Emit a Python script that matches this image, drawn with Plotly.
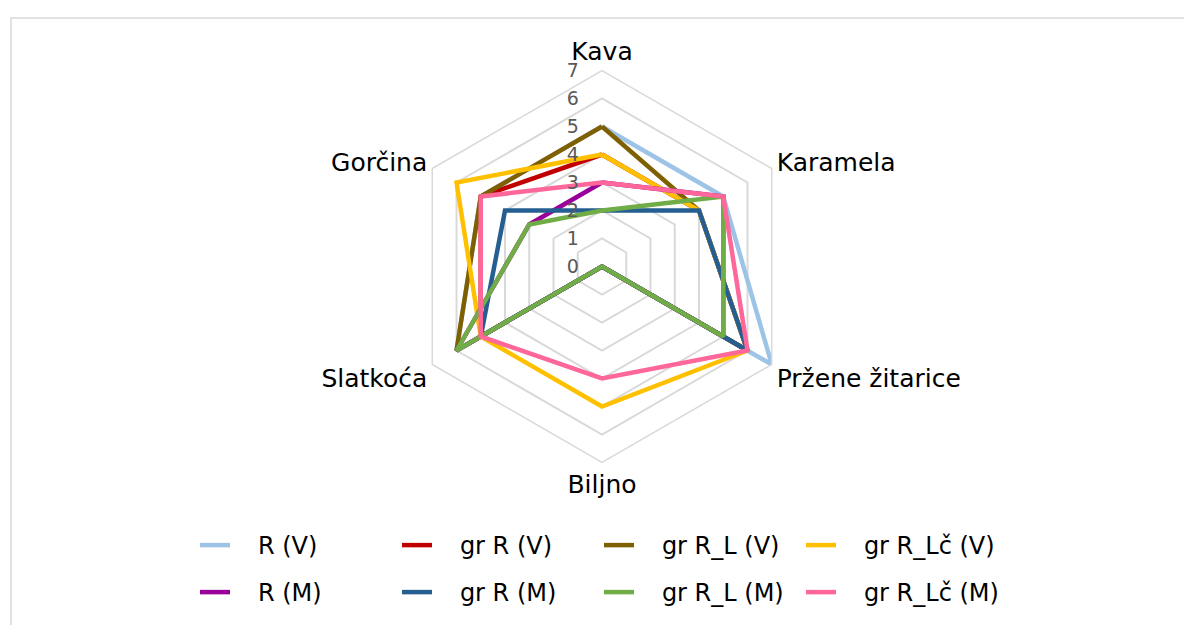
import plotly.graph_objects as go

categories = ["Kava", "Karamela", "Pržene žitarice", "Biljno", "Slatkoća", "Gorčina"]

series_names = ["R (V)", "gr R (V)", "gr R_L (V)", "gr R_Lč (V)",
                "R (M)", "gr R (M)", "gr R_L (M)", "gr R_Lč (M)"]

r_v = [5, 5, 7, 0, 6, 5]
gr_r_v = [4, 4, 6, 0, 5, 5]
gr_rl_v = [5, 4, 6, 0, 6, 5]
gr_rlc_v = [4, 4, 6, 5, 5, 6]
r_m = [3, 5, 5, 0, 6, 3]
gr_r_m = [2, 4, 6, 0, 5, 4]
gr_rl_m = [2, 5, 5, 0, 6, 3]
gr_rlc_m = [3, 5, 6, 4, 5, 5]

series_values = [r_v, gr_r_v, gr_rl_v, gr_rlc_v, r_m, gr_r_m, gr_rl_m, gr_rlc_m]
colors = ["#9DC3E6", "#C00000", "#7F6000", "#FFC000",
          "#990099", "#255E91", "#70AD47", "#FF6699"]

radial_ticks = [0, 1, 2, 3, 4, 5, 6, 7]

W, H = 1192, 625
cx, cy, R = 594, 258.5, 196

fig = go.Figure()
for i, (name, vals, col) in enumerate(zip(series_names, series_values, colors)):
    fig.add_trace(go.Scatterpolar(
        r=vals + vals[:1],
        theta=categories + categories[:1],
        mode="lines",
        name="\u00a0\u00a0\u00a0" + name,
        line=dict(color=col, width=4.5),
        legend="legend" if i < 4 else "legend2",
    ))

font_family = "DejaVu Sans, Verdana, sans-serif"

fig.update_layout(
    width=W, height=H,
    margin=dict(l=0, r=0, t=0, b=0),
    paper_bgcolor="white",
    plot_bgcolor="white",
    font=dict(family=font_family, color="#000000"),
    polar=dict(
        domain=dict(x=[(cx - R) / W, (cx + R) / W], y=[(H - cy - R) / H, (H - cy + R) / H]),
        bgcolor="white",
        gridshape="linear",
        radialaxis=dict(
            range=[0, 7],
            tickvals=radial_ticks,
            angle=90,
            tickangle=90,
            side="counterclockwise",
            showline=False,
            ticks="outside",
            ticklen=16,
            tickcolor="rgba(0,0,0,0)",
            gridcolor="#D9D9D9",
            gridwidth=1.5,
            tickfont=dict(size=19, color="#595959", family=font_family),
        ),
        angularaxis=dict(
            rotation=90,
            direction="clockwise",
            showgrid=False,
            showline=True,
            linecolor="#D9D9D9",
            linewidth=1.5,
            ticks="",
            tickfont=dict(size=25, color="#000000", family=font_family),
        ),
    ),
    legend=dict(orientation="h", x=187 / W, y=1 - 515 / H, xanchor="left", yanchor="top",
                entrywidth=157, font=dict(size=24, family=font_family), bgcolor="rgba(0,0,0,0)"),
    legend2=dict(orientation="h", x=187 / W, y=1 - 562 / H, xanchor="left", yanchor="top",
                 entrywidth=157, font=dict(size=24, family=font_family), bgcolor="rgba(0,0,0,0)"),
    shapes=[dict(type="rect", xref="paper", yref="paper",
                 x0=3 / W, x1=1189 / W, y0=-0.05, y1=1 - 10 / H,
                 line=dict(color="#D9D9D9", width=1.5), fillcolor="rgba(0,0,0,0)", layer="below")],
)

fig.write_html("out.html")
